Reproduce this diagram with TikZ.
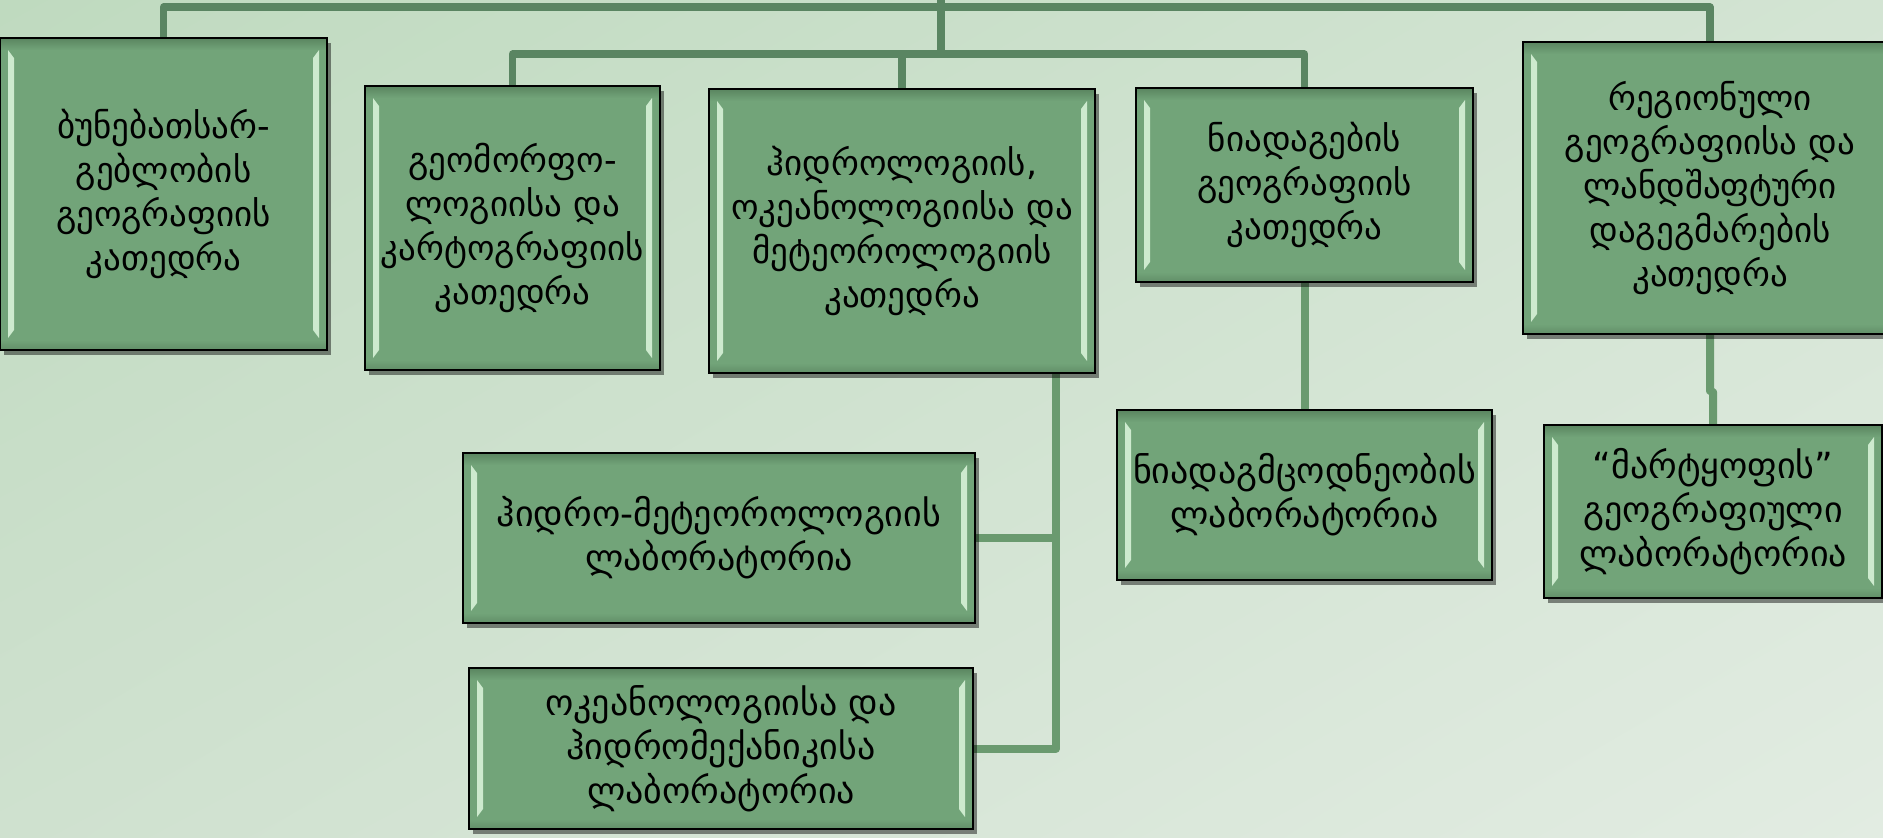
\documentclass[tikz,border=0pt]{standalone}
\usepackage{fontspec}
\setmainfont{DejaVu Sans}
\usetikzlibrary{calc,shadows,shadings}
\definecolor{boxfill}{HTML}{72A479}
\definecolor{bevdark}{HTML}{5A8560}
\definecolor{bevlight}{HTML}{DDF7DD}
\definecolor{busdark}{HTML}{5A8562}
\definecolor{buslight}{HTML}{6A9A6F}
\definecolor{bgA}{HTML}{BFDABF}
\definecolor{bgB}{HTML}{D3E4D3}
\definecolor{bgC}{HTML}{CFE1CF}
\definecolor{bgD}{HTML}{E2ECE2}
\pgfdeclarelayer{bgl}
\pgfdeclarelayer{lnl}
\pgfsetlayers{bgl,lnl,main}
\tikzset{
  box/.style={draw=black, line width=0.8pt, fill=boxfill, inner sep=0pt, align=center,
    font=\fontsize{17.5}{22}\selectfont,
    drop shadow={shadow xshift=2pt, shadow yshift=-2.5pt, opacity=.45, fill=black},
    path picture={
      \path (path picture bounding box.north west) coordinate (pnw)
            (path picture bounding box.south east) coordinate (pse);
      \shade[top color=bevdark, bottom color=boxfill] (pnw) rectangle ($(pse|-pnw)+(0,-6pt)$);
      \shade[top color=boxfill, bottom color=bevdark!70!boxfill] ($(pnw|-pse)+(0,5pt)$) rectangle (pse);
      \fill[bevlight, opacity=.85] ($(pnw)+(4pt,-6pt)$) -- ($(pnw)+(7pt,-10pt)$) -- ($(pnw|-pse)+(7pt,10pt)$) -- ($(pnw|-pse)+(4pt,6pt)$) -- cycle;
      \fill[bevlight, opacity=.85] ($(pse|-pnw)+(-4pt,-6pt)$) -- ($(pse|-pnw)+(-7pt,-10pt)$) -- ($(pse)+(-7pt,10pt)$) -- ($(pse)+(-4pt,6pt)$) -- cycle;
    }},
  lab/.style={box, font=\fontsize{18}{22}\selectfont},
  bus/.style={draw=busdark, line width=3.6pt, line join=round},
  link/.style={draw=buslight, line width=4pt, line join=round},
}
\begin{document}
\begin{tikzpicture}[x=0.5pt,y=-0.5pt]
\useasboundingbox (0,0) rectangle (1883,837);
\clip (0,0) rectangle (1883,837);
\begin{pgfonlayer}{bgl}
\shade[upper left=bgA, upper right=bgB, lower left=bgC, lower right=bgD] (0,0) rectangle (1883,837);
\end{pgfonlayer}

\node[box, minimum width=163.5pt, minimum height=156pt] (b1) at (163.5,194)
  {ბუნებათსარ-\\გებლობის\\გეოგრაფიის\\კათედრა};
\node[box, minimum width=147.5pt, minimum height=142pt] (b2) at (512.5,228)
  {გეომორფო-\\ლოგიისა და\\კარტოგრაფიის\\კათედრა};
\node[box, minimum width=193pt, minimum height=142pt] (b3) at (902,231)
  {ჰიდროლოგიის,\\ოკეანოლოგიისა და\\მეტეოროლოგიის\\კათედრა};
\node[box, minimum width=168.5pt, minimum height=97pt] (b4) at (1304.5,185)
  {ნიადაგების\\გეოგრაფიის\\კათედრა};
\node[box, minimum width=187pt, minimum height=146pt] (b5) at (1710,188)
  {რეგიონული\\გეოგრაფიისა და\\ლანდშაფტური\\დაგეგმარების\\კათედრა};
\node[lab, minimum width=256pt, minimum height=85pt] (b6) at (719,538)
  {ჰიდრო-მეტეოროლოგიის\\ლაბორატორია};
\node[lab, minimum width=252pt, minimum height=80.5pt] (b7) at (721,748.5)
  {ოკეანოლოგიისა და\\ჰიდრომექანიკისა\\ლაბორატორია};
\node[lab, minimum width=187.5pt, minimum height=85pt] (b8) at (1304.5,495)
  {ნიადაგმცოდნეობის\\ლაბორატორია};
\node[lab, minimum width=169pt, minimum height=86.5pt] (b9) at (1713,511.5)
  {“მარტყოფის”\\გეოგრაფიული\\ლაბორატორია};

\coordinate (trunkTop) at (941,-6);
\coordinate (hubA) at (941,7);
\coordinate (hubB) at (941,54);
\coordinate (spine) at (1056,0);

\begin{pgfonlayer}{lnl}
\draw[bus] (trunkTop) -- (hubB);
\draw[bus] (b1.north) |- (hubA) -| (b5.north);
\draw[bus] (b2.north) |- (hubB) -| (b4.north);
\draw[bus] (b3.north) -- (b3.north |- hubB);
\draw[link] (b3.south -| spine) |- (b7.east);
\draw[link] (b6.east) -- (b6.east -| spine);
\draw[link] (b4.south) -- (b8.north);
\draw[link] (b5.south) -- ++(0,56) -- ($(b9.north)+(0,-32)$) -- (b9.north);
\end{pgfonlayer}
\end{tikzpicture}
\end{document}
